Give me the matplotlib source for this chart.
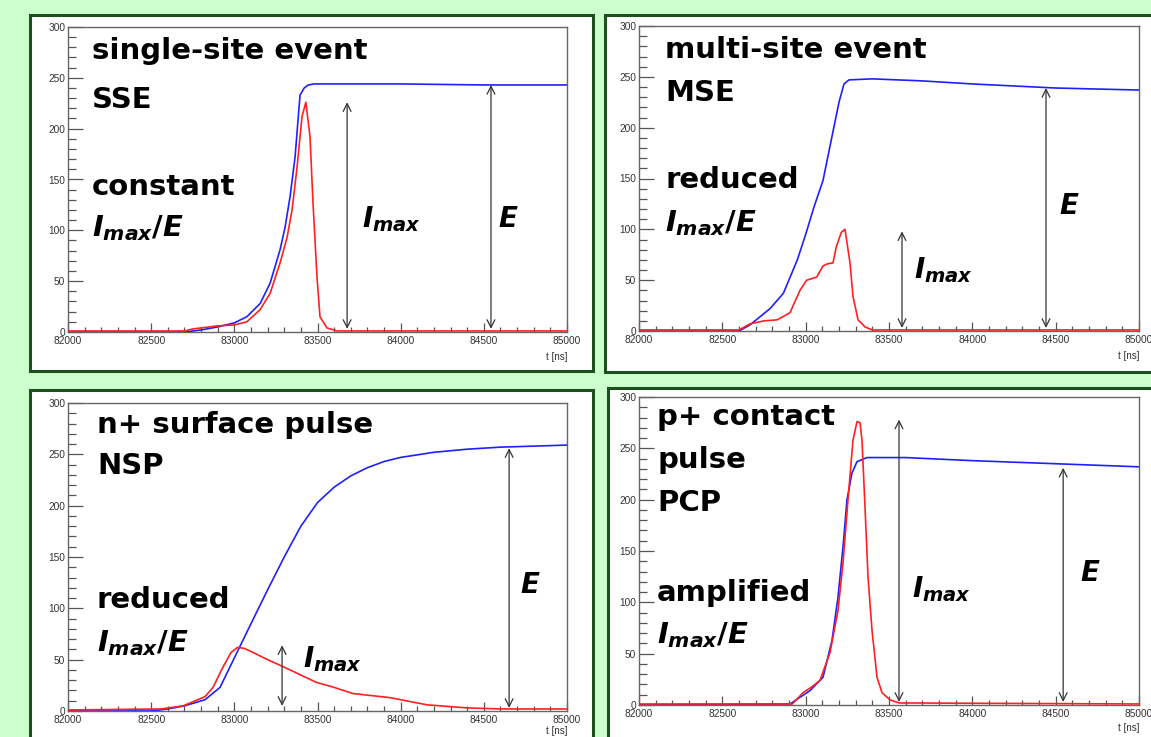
import matplotlib
matplotlib.use('Agg')
import matplotlib.pyplot as plt
from matplotlib.patches import Rectangle
from matplotlib.ticker import MultipleLocator

plt.rcParams['font.family'] = ['DejaVu Sans']
plt.rcParams['mathtext.fontset'] = 'custom'
plt.rcParams['mathtext.it'] = 'DejaVu Sans:italic:bold'
plt.rcParams['mathtext.rm'] = 'DejaVu Sans:bold'
plt.rcParams['mathtext.bf'] = 'DejaVu Sans:bold'

# ---- waveforms (t in ns), charge pulse = blue, current pulse = red ----
# single-site event
sse_t_q = [82000, 82700, 82800, 82900, 83000, 83075, 83155, 83215, 83275, 83305,
           83335, 83365, 83395, 83420, 83445, 83480, 83550, 84000, 84500, 85000]
sse_q = [0, 0, 2, 5, 9, 15, 28, 48, 81, 103, 133, 172, 233, 240, 243, 244, 244, 244, 243, 243]
sse_t_i = [82000, 82700, 82750, 82800, 82900, 83000, 83075, 83155, 83215, 83275, 83317,
           83347, 83377, 83407, 83430, 83455, 83473, 83497, 83515, 83557, 83617, 84000, 85000]
sse_i = [1, 1, 3, 4, 6, 7, 10, 22, 38, 68, 93, 120, 162, 212, 226, 192, 127, 54, 15, 4, 1, 1, 1]

# multi-site event
mse_t_q = [82000, 82600, 82666, 82726, 82786, 82866, 82950, 83000, 83050, 83104,
           83150, 83200, 83230, 83260, 83400, 83700, 84000, 84500, 85000]
mse_q = [0, 0, 6, 14, 22, 37, 70, 95, 122, 148, 185, 225, 243, 247, 248, 246, 243, 239, 237]
mse_t_i = [82000, 82600, 82666, 82750, 82830, 82906, 82966, 83006, 83066, 83104, 83130,
           83164, 83184, 83214, 83236, 83266, 83284, 83314, 83356, 83400, 85000]
mse_i = [1, 1, 7, 10, 11, 18, 40, 50, 53, 64, 66, 67, 83, 97, 100, 67, 34, 11, 4, 1, 1]

# n+ surface pulse
nsp_t_q = [82000, 82500, 82600, 82700, 82824, 82914, 82980, 83034, 83100, 83200,
           83300, 83400, 83500, 83600, 83700, 83800, 83900, 84000, 84200, 84400,
           84600, 84800, 85000]
nsp_q = [0, 0, 2, 5, 11, 23, 45, 63, 85, 118, 150, 180, 203, 218, 229, 237, 243, 247,
         252, 255, 257, 258, 259]
nsp_t_i = [82000, 82560, 82692, 82824, 82872, 82926, 82980, 83020, 83060, 83100, 83200,
           83269, 83400, 83491, 83600, 83714, 83936, 84159, 84400, 84604, 85000]
nsp_i = [1, 2, 5, 14, 23, 41, 57, 62, 61, 58, 50, 45, 35, 28, 23, 17, 13, 6, 3, 2, 2]

# p+ contact pulse
pcp_t_q = [82000, 82906, 83026, 83104, 83158, 83194, 83224, 83248, 83278, 83308,
           83368, 83600, 84000, 84500, 85000]
pcp_q = [0, 1, 14, 27, 63, 105, 154, 200, 226, 237, 241, 241, 238, 235, 232]
pcp_t_i = [82000, 82920, 82984, 83040, 83086, 83146, 83194, 83224, 83254, 83284, 83308,
           83326, 83338, 83356, 83374, 83398, 83428, 83458, 83506, 83560, 85000]
pcp_i = [1, 1, 12, 18, 24, 51, 92, 138, 200, 258, 276, 275, 258, 193, 125, 73, 27, 12, 5, 2, 1]

# arrow markers: (t position, lower value, upper value)
sse_imax_arrow = (83678, 3, 226)
sse_e_arrow = (84543, 3, 243)
mse_imax_arrow = (83578, 3, 98)
mse_e_arrow = (84442, 3, 239)
nsp_imax_arrow = (83287, 5, 64)
nsp_e_arrow = (84652, 3, 256)
pcp_imax_arrow = (83560, 3, 278)
pcp_e_arrow = (84545, 3, 231)

W, H = 1151, 737
BG = '#ccffcc'
FRAME = '#1e4f1e'


def fig_rect(x0, y0, x1, y1):
    """pixel box (top-left origin) -> figure fraction rect"""
    return [x0 / W, 1 - y1 / H, (x1 - x0) / W, (y1 - y0) / H]


fig = plt.figure(figsize=(W / 100, H / 100), dpi=100)
fig.patch.set_facecolor(BG)

# white slide boxes with dark green border, kept behind the axes
for x0, y0, x1, y1 in [(30, 15, 593, 371), (605, 15, 1165, 372),
                       (30, 390, 593, 750), (608, 388, 1165, 750)]:
    l, b, w, h = fig_rect(x0, y0, x1, y1)
    fig.patches.append(Rectangle((l, b), w, h, transform=fig.transFigure,
                                 facecolor='white', edgecolor=FRAME, lw=2.2, zorder=-5))


def root_axes(rect, unit_off=-0.065):
    ax = fig.add_axes(rect)
    ax.set_zorder(1)
    ax.set_xlim(82000, 85000)
    ax.set_ylim(0, 300)
    ax.xaxis.set_major_locator(MultipleLocator(500))
    ax.xaxis.set_minor_locator(MultipleLocator(100))
    ax.yaxis.set_major_locator(MultipleLocator(50))
    ax.yaxis.set_minor_locator(MultipleLocator(10))
    ax.tick_params(direction='in', top=False, right=False, which='both',
                   colors='#555555', labelcolor='#333333', labelsize=7.3, width=0.9)
    ax.tick_params(axis='y', which='major', length=10.8, pad=2)
    ax.tick_params(axis='y', which='minor', length=5.4)
    ax.tick_params(axis='x', which='major', length=6.5, pad=3)
    ax.tick_params(axis='x', which='minor', length=3.3)
    for sp in ax.spines.values():
        sp.set_color('#666666')
        sp.set_linewidth(1.0)
    ax.text(1.0, unit_off, 't [ns]', transform=ax.transAxes, ha='right', va='top',
            fontsize=7, color='#333333', family='Liberation Sans')
    for lab in ax.get_xticklabels() + ax.get_yticklabels():
        lab.set_family('Liberation Sans')
    return ax


def arrow(ax, spec):
    t, lo, hi = spec
    ax.annotate('', xy=(t, hi), xytext=(t, lo),
                arrowprops=dict(arrowstyle='<->', color='#333333', lw=0.9,
                                mutation_scale=14, shrinkA=0, shrinkB=0))


def label(ax, x, y, s, size=21):
    ax.text(x, y, s, transform=ax.transAxes, fontsize=size, fontweight='bold',
            ha='left', va='center', color='black')


panels = [
    (fig_rect(68, 27, 567, 332), -0.065, sse_t_q, sse_q, sse_t_i, sse_i, sse_imax_arrow, sse_e_arrow),
    (fig_rect(639, 26, 1139, 331), -0.065, mse_t_q, mse_q, mse_t_i, mse_i, mse_imax_arrow, mse_e_arrow),
    (fig_rect(68, 403, 567, 711), -0.05, nsp_t_q, nsp_q, nsp_t_i, nsp_i, nsp_imax_arrow, nsp_e_arrow),
    (fig_rect(639, 397, 1139, 705), -0.058, pcp_t_q, pcp_q, pcp_t_i, pcp_i, pcp_imax_arrow, pcp_e_arrow),
]

axes = []
for rect, off, tq, q, ti, i, a_imax, a_e in panels:
    ax = root_axes(rect, off)
    ax.plot(tq, q, color='#2020ff', lw=1.2, zorder=3)
    ax.plot(ti, i, color='#ff2020', lw=1.2, zorder=3)
    arrow(ax, a_imax)
    arrow(ax, a_e)
    axes.append(ax)

imax = r'$I_{max}$'
imax_e = r'$I_{max}/E$'
e_lab = r'$E$'

# single-site event
ax = axes[0]
label(ax, 0.048, 0.92, 'single-site event')
label(ax, 0.048, 0.76, 'SSE')
label(ax, 0.048, 0.475, 'constant')
label(ax, 0.048, 0.34, imax_e)
label(ax, 0.59, 0.37, imax, 20)
label(ax, 0.862, 0.37, e_lab, 20)

# multi-site event
ax = axes[1]
label(ax, 0.052, 0.92, 'multi-site event')
label(ax, 0.052, 0.78, 'MSE')
label(ax, 0.052, 0.495, 'reduced')
label(ax, 0.052, 0.355, imax_e)
label(ax, 0.55, 0.20, imax, 20)
label(ax, 0.84, 0.41, e_lab, 20)

# n+ surface pulse
ax = axes[2]
label(ax, 0.058, 0.93, 'n+ surface pulse')
label(ax, 0.058, 0.795, 'NSP')
label(ax, 0.058, 0.36, 'reduced')
label(ax, 0.058, 0.22, imax_e)
label(ax, 0.47, 0.17, imax, 20)
label(ax, 0.905, 0.41, e_lab, 20)

# p+ contact pulse
ax = axes[3]
label(ax, 0.036, 0.935, 'p+ contact')
label(ax, 0.036, 0.795, 'pulse')
label(ax, 0.036, 0.655, 'PCP')
label(ax, 0.036, 0.365, 'amplified')
label(ax, 0.036, 0.228, imax_e)
label(ax, 0.545, 0.375, imax, 20)
label(ax, 0.882, 0.43, e_lab, 20)

fig.savefig('out.png', dpi=100, facecolor=fig.get_facecolor())
